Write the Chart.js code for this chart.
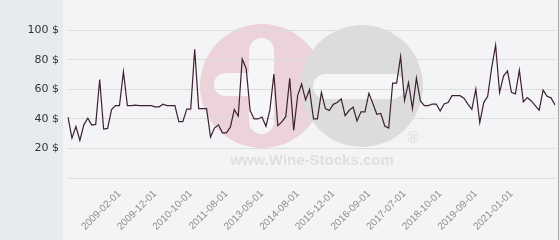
<!DOCTYPE html>
<html>
<head>
<meta charset="utf-8">
<script src="https://cdn.jsdelivr.net/npm/chart.js@4.4.1/dist/chart.umd.min.js"></script>
<style>
  html, body { margin: 0; padding: 0; background: #f4f4f7; overflow: hidden; }
  canvas { display: block; }
</style>
</head>
<body>
<canvas id="priceChart" width="560" height="240" style="width:560px;height:240px"></canvas>
<script>
// monthly price points
const prices = [
  41.3, 27, 34.8, 25.4, 36, 40.5, 35.8, 36.3, 66.7, 33.1,
  33.6, 46.3, 49, 49, 72, 49, 49, 49.4, 49, 49,
  49, 49, 48.2, 48.2, 50, 49, 49, 49, 38.2, 38.2,
  46.7, 46.7, 87.2, 47, 47, 47, 27.7, 33.8, 36, 30.6,
  30.6, 34.4, 46.3, 42, 80.5, 74.2, 45.7, 40, 40, 41.3,
  35, 46.3, 70.4, 35.4, 38, 41.5, 67.5, 32.3, 55.8, 63.7,
  52.8, 60, 40, 40, 58, 47, 45.7, 49.9, 51.1, 53.6,
  42.3, 45.7, 48, 38.6, 44.8, 44.8, 57.4, 50.5, 43.2, 43.8,
  35.2, 33.8, 64.3, 64.3, 82.2, 52.6, 64.6, 47, 67.7, 52.2,
  49, 49, 50.1, 50.1, 45.3, 50.1, 51.1, 55.8, 55.8, 55.8,
  54.1, 50.1, 46.5, 60.2, 37.5, 51.1, 55.3, 74.6, 89.9, 57.9,
  69, 72.5, 58, 57, 73, 51.6, 54.5, 52.2, 49, 45.9,
  59.5, 55.3, 54.3, 49.5
];
const dateLabels = ['2009-02-01', '2009-12-01', '2010-10-01', '2011-08-01', '2013-05-01', '2014-08-01',
                    '2015-12-01', '2016-09-01', '2017-07-01', '2018-10-01', '2019-09-01', '2021-01-01'];
const dateLabelIndex = [13, 22, 31, 40, 49, 58, 67, 76, 85, 94, 103, 112];
const yTicks = [0, 20, 40, 60, 80, 100];

function roundRect(c, x, y, w, h, r) {
  c.beginPath();
  c.moveTo(x + r, y);
  c.arcTo(x + w, y, x + w, y + h, r);
  c.arcTo(x + w, y + h, x, y + h, r);
  c.arcTo(x, y + h, x, y, r);
  c.arcTo(x, y, x + w, y, r);
  c.closePath();
  c.fill();
}

// page panels + faded site logo behind the plot
const backdrop = {
  id: 'backdrop',
  beforeDraw(chart) {
    const c = chart.ctx;
    c.save();
    c.fillStyle = '#f4f4f7';
    c.fillRect(0, 0, 560, 240);
    c.fillStyle = '#e7ebee';
    c.fillRect(0, 0, 63, 240);
    c.fillStyle = '#a9a9a9';
    c.fillRect(558, 0, 1, 240);
    c.fillStyle = '#ececec';
    c.fillRect(559, 0, 1, 240);

    c.fillStyle = '#ebd3d9';
    c.beginPath(); c.arc(262, 86, 62, 0, Math.PI * 2); c.fill();
    c.fillStyle = '#f6f6f8';
    roundRect(c, 249, 38, 25, 96, 12.5);
    roundRect(c, 214, 73, 60, 23, 11.5);
    c.fillStyle = '#dcdcdd';
    c.beginPath(); c.arc(362, 86, 61, 0, Math.PI * 2); c.fill();
    c.fillStyle = '#f6f6f8';
    roundRect(c, 313, 74, 92, 25, 12.5);

    c.fillStyle = '#dfdfdf';
    c.font = 'bold 15px "Liberation Sans"';
    c.textAlign = 'center';
    c.textBaseline = 'middle';
    c.fillText('www.Wine-Stocks.com', 312, 161);
    c.font = '15px "DejaVu Sans"';
    c.fillText('\u00ae', 413, 139);
    c.restore();
  }
};

new Chart(document.getElementById('priceChart'), {
  type: 'line',
  data: {
    labels: prices.map((_, i) => i),
    datasets: [{
      data: prices,
      borderColor: '#3c2130',
      borderWidth: 1.2,
      pointRadius: 0,
      tension: 0,
      fill: false
    }]
  },
  options: {
    responsive: false,
    devicePixelRatio: 1,
    animation: false,
    layout: { padding: { top: 3, right: 5, left: 0, bottom: 0 } },
    plugins: { legend: { display: false }, tooltip: { enabled: false } },
    scales: {
      x: {
        grid: { display: false, drawTicks: false },
        border: { display: false },
        afterFit: s => { s.height = 62; },
        ticks: {
          autoSkip: false,
          minRotation: 45,
          maxRotation: 45,
          padding: 10,
          color: '#8c8c8c',
          font: { family: 'Liberation Sans', size: 10 },
          callback: (v, i) => {
            const k = dateLabelIndex.indexOf(i);
            return k >= 0 ? dateLabels[k] : null;
          }
        }
      },
      y: {
        min: 0,
        max: 110,
        afterFit: s => { s.width = 68; },
        afterBuildTicks: s => { s.ticks = yTicks.map(v => ({ value: v })); },
        border: { display: false },
        grid: { color: '#dcdcdc', drawTicks: false },
        ticks: {
          padding: 9,
          color: '#333',
          font: { family: 'DejaVu Sans', size: 11 },
          callback: v => v === 0 ? '' : v + ' $'
        }
      }
    }
  },
  plugins: [backdrop]
});
</script>
</body>
</html>
